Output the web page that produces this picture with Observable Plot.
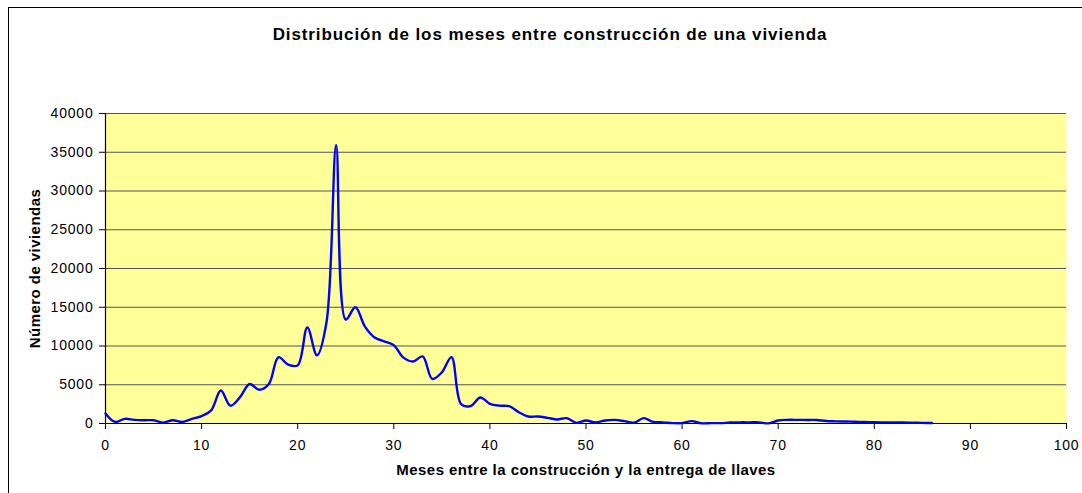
<!DOCTYPE html>
<html>
<head>
<meta charset="utf-8">
<script src="https://cdn.jsdelivr.net/npm/d3@7"></script>
<script src="https://cdn.jsdelivr.net/npm/@observablehq/plot@0.6"></script>
<style>
  html, body { margin: 0; padding: 0; background: #fff; }
  #wrap { position: relative; width: 1082px; height: 493px; overflow: hidden; font-family: "Liberation Sans", Arial, sans-serif; }
  #border { position: absolute; left: 8px; top: 7px; width: 1090px; height: 500px; border: 1.5px solid #000; box-sizing: border-box; pointer-events: none; }
  #title { position: absolute; left: 0; top: 25px; width: 1100px; text-align: center; font-weight: bold; font-size: 17px; letter-spacing: 0.9px; line-height: 20px; color: #000; }
  #chart { position: absolute; left: 0; top: 0; }
  #chart svg text { letter-spacing: 0.8px; }
  #chart svg .lab text { letter-spacing: 0.45px; }
</style>
</head>
<body>
<div id="wrap">
  <div id="chart"></div>
  <div id="border"></div>
  <div id="title">Distribución de los meses entre construcción de una vivienda</div>
</div>
<script>
const titleText = "Distribución de los meses entre construcción de una vivienda";
const xLabel = "Meses entre la construcción y la entrega de llaves";
const yLabel = "Número de viviendas";

const months = [
  0, 1, 2, 3, 4, 5, 6, 7, 8, 9,
  10, 11, 12, 13, 14, 15, 16, 17, 18, 19,
  20, 21, 22, 23, 24, 25, 26, 27, 28, 29,
  30, 31, 32, 33, 34, 35, 36, 37, 38, 39,
  40, 41, 42, 43, 44, 45, 46, 47, 48, 49,
  50, 51, 52, 53, 54, 55, 56, 57, 58, 59,
  60, 61, 62, 63, 64, 65, 66, 67, 68, 69,
  70, 71, 72, 73, 74, 75, 76, 77, 78, 79,
  80, 81, 82, 83, 84, 85, 86
];
const viviendas = [
  1300, 200, 600, 470, 420, 420, 100, 420, 200, 600,
  950, 1700, 4250, 2300, 3400, 5100, 4350, 5100, 8550, 7600,
  7500, 12400, 8800, 13100, 35900, 13400, 15000, 12500, 11100, 10600,
  10100, 8500, 8000, 8650, 5760, 6600, 8560, 2500, 2250, 3350,
  2540, 2300, 2240, 1460, 900, 900, 730, 520, 690, 80,
  390, 130, 390, 470, 300, 100, 690, 200, 150, 50,
  50, 300, 30, 50, 50, 120, 150, 150, 150, 20,
  390, 470, 470, 460, 450, 320, 280, 260, 220, 200,
  160, 150, 150, 130, 100, 80, 60
];
const xTicks = [0, 10, 20, 30, 40, 50, 60, 70, 80, 90, 100];
const yTicks = [0, 5000, 10000, 15000, 20000, 25000, 30000, 35000, 40000];

const data = months.map((m, i) => ({ m, v: viviendas[i] }));

const chart = Plot.plot({
  width: 1082,
  height: 493,
  marginLeft: 105,
  marginRight: 16,
  marginTop: 113,
  marginBottom: 70,
  style: { fontFamily: "'Liberation Sans', Arial, sans-serif", fontSize: "14px", color: "#000", background: "transparent", overflow: "visible" },
  x: { domain: [0, 100] },
  y: { domain: [0, 40000] },
  marks: [
    Plot.frame({ fill: "#FFFF99", stroke: null }),
    Plot.ruleY(yTicks.filter(d => d > 0), { stroke: "#555", strokeWidth: 1.2 }),
    Plot.ruleY([0], { stroke: "#000", strokeWidth: 1.2 }),
    Plot.ruleX([0], { stroke: "#000", strokeWidth: 1.2 }),
    Plot.axisX({ ticks: xTicks, tickSize: 6, tickPadding: 11, tickFormat: d => String(d), label: null, fontSize: 14 }),
    Plot.axisY({ ticks: yTicks, tickSize: 6, tickPadding: 6, tickFormat: d => String(d), label: null, fontSize: 14 }),
    Plot.line(data, { x: "m", y: "v", stroke: "#0000FF", strokeWidth: 2.4, curve: "catmull-rom" }),
    Plot.text([xLabel], { frameAnchor: "bottom", dy: 51, fontWeight: "bold", fontSize: 15, className: "lab" }),
    Plot.text([yLabel], { frameAnchor: "left", dx: -70, rotate: -90, textAnchor: "middle", fontWeight: "bold", fontSize: 15, className: "lab" })
  ]
});
document.getElementById("chart").appendChild(chart);
</script>
</body>
</html>
